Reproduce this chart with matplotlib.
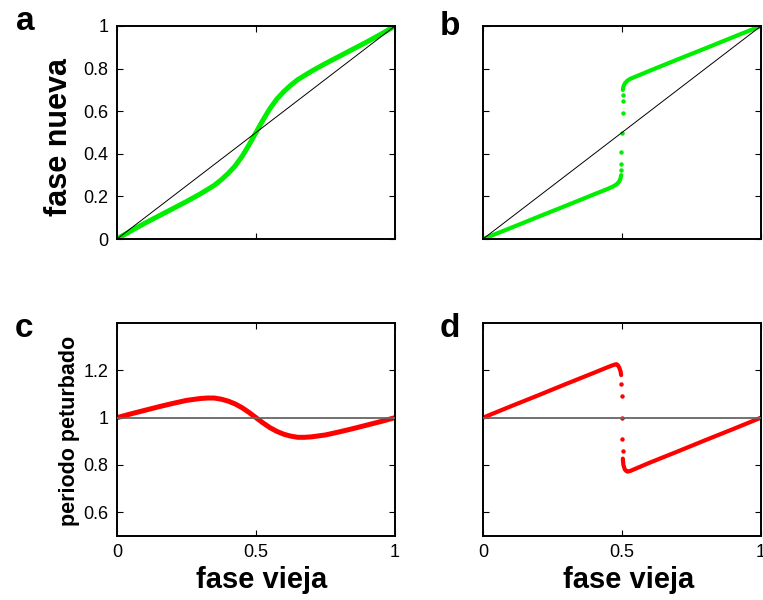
import matplotlib
matplotlib.use("Agg")
import matplotlib.pyplot as plt

plt.rcParams['font.family'] = ['Liberation Sans', 'DejaVu Sans']

# panel a: fase nueva vs fase vieja (suave)
old_a = [0, 0.05, 0.1, 0.15, 0.2, 0.25, 0.3, 0.35, 0.375, 0.4, 0.425, 0.45, 0.475, 0.5,
         0.525, 0.55, 0.575, 0.6, 0.625, 0.65, 0.7, 0.75, 0.8, 0.85, 0.9, 0.95, 1]
new_a = [0, 0.038, 0.074, 0.108, 0.142, 0.176, 0.212, 0.252, 0.278, 0.308, 0.343, 0.388, 0.442, 0.5,
         0.558, 0.612, 0.657, 0.692, 0.722, 0.748, 0.788, 0.824, 0.858, 0.892, 0.926, 0.962, 1]

# panel b: fase nueva con salto en 0.5
old_b_lo = [0, 0.1, 0.2, 0.3, 0.4, 0.45, 0.47, 0.48, 0.49, 0.495, 0.497]
new_b_lo = [0, 0.052, 0.105, 0.157, 0.21, 0.236, 0.248, 0.256, 0.27, 0.285, 0.30]
old_b_jump = [0.497, 0.497, 0.498, 0.5, 0.502, 0.503, 0.503]
new_b_jump = [0.326, 0.351, 0.408, 0.5, 0.592, 0.649, 0.674]
old_b_hi = [0.503, 0.505, 0.51, 0.52, 0.53, 0.6, 0.7, 0.8, 0.9, 1.0]
new_b_hi = [0.70, 0.715, 0.73, 0.744, 0.752, 0.79, 0.843, 0.895, 0.948, 1.0]

# panel c: periodo perturbado (suave)
old_c = [0, 0.05, 0.1, 0.15, 0.2, 0.25, 0.3, 0.325, 0.35, 0.375, 0.4, 0.425, 0.45, 0.475, 0.5,
         0.525, 0.55, 0.575, 0.6, 0.625, 0.65, 0.675, 0.7, 0.75, 0.8, 0.85, 0.9, 0.95, 1]
per_c = [1.0, 1.016, 1.031, 1.046, 1.06, 1.073, 1.081, 1.083, 1.083, 1.078, 1.07, 1.058, 1.042, 1.022, 1.0,
         0.978, 0.958, 0.942, 0.93, 0.922, 0.917, 0.917, 0.919, 0.927, 0.94, 0.954, 0.969, 0.984, 1.0]

# panel d: periodo perturbado con salto
old_d_lo = [0, 0.1, 0.2, 0.3, 0.4, 0.45, 0.47, 0.48, 0.485, 0.49, 0.495, 0.497]
per_d_lo = [1.0, 1.048, 1.095, 1.143, 1.19, 1.214, 1.223, 1.226, 1.222, 1.212, 1.195, 1.18]
old_d_jump = [0.498, 0.499, 0.5, 0.501, 0.502]
per_d_jump = [1.144, 1.09, 1.0, 0.911, 0.859]
old_d_hi = [0.503, 0.505, 0.51, 0.515, 0.52, 0.53, 0.6, 0.7, 0.8, 0.9, 1.0]
per_d_hi = [0.827, 0.80, 0.782, 0.775, 0.772, 0.775, 0.81, 0.857, 0.905, 0.952, 1.0]

green = '#00EE00'
red = '#FF0000'

fig = plt.figure(figsize=(7.63, 6.0), dpi=100)
W, H = 763.0, 600.0


def make_ax(x0, y0, x1, y1):
    ax = fig.add_axes([x0 / W, 1 - y1 / H, (x1 - x0) / W, (y1 - y0) / H])
    ax.tick_params(direction='in', top=True, right=True, length=4.5, width=0.8,
                   labelsize=13, pad=6, colors='black')
    for s in ax.spines.values():
        s.set_linewidth(1.4)
    ax.set_xlim(0, 1)
    ax.set_xticks([0, 0.5, 1])
    return ax


ax_a = make_ax(117, 26, 395, 239)
ax_b = make_ax(483, 26, 761, 239)
ax_c = make_ax(117, 323, 395, 536)
ax_d = make_ax(483, 323, 761, 536)

# top panels
for ax in (ax_a, ax_b):
    ax.set_ylim(0, 1)
    ax.set_yticks([0, 0.2, 0.4, 0.6, 0.8, 1])
    ax.set_xticklabels([])
    ax.plot([0, 1], [0, 1], color='black', lw=0.7, zorder=5)
ax_a.set_yticklabels(['0', '0.2', '0.4', '0.6', '0.8', '1'])
ax_b.set_yticklabels([])

ax_a.plot(old_a, new_a, color=green, lw=3.6, solid_capstyle='round', solid_joinstyle='round')
ax_b.plot(old_b_lo, new_b_lo, color=green, lw=3.0, solid_capstyle='round')
ax_b.plot(old_b_hi, new_b_hi, color=green, lw=3.0, solid_capstyle='round')
ax_b.plot(old_b_jump, new_b_jump, 'o', color=green, ms=3.2, mew=0)

# bottom panels
for ax in (ax_c, ax_d):
    ax.set_ylim(0.5, 1.4)
    ax.set_yticks([0.6, 0.8, 1, 1.2])
    ax.set_xticklabels(['0', '0.5', '1'])
    ax.axhline(1, color='0.4', lw=1.3, zorder=5)
ax_c.set_yticklabels(['0.6', '0.8', '1', '1.2'])
ax_d.set_yticklabels([])

ax_c.plot(old_c, per_c, color=red, lw=3.6, solid_capstyle='round', solid_joinstyle='round')
ax_d.plot(old_d_lo, per_d_lo, color=red, lw=3.0, solid_capstyle='round')
ax_d.plot(old_d_hi, per_d_hi, color=red, lw=3.0, solid_capstyle='round')
ax_d.plot(old_d_jump, per_d_jump, 'o', color=red, ms=3.2, mew=0)

# labels
fig.text(59 / W, 1 - 137 / H, 'fase nueva', rotation=90, fontsize=22,
         fontweight='bold', ha='center', va='center')
fig.text(70 / W, 1 - 431 / H, 'periodo peturbado', rotation=90, fontsize=15.5,
         fontweight='bold', ha='center', va='center')
fig.text(262 / W, 1 - 580 / H, 'fase vieja', fontsize=21,
         fontweight='bold', ha='center', va='center')
fig.text(629 / W, 1 - 580 / H, 'fase vieja', fontsize=21,
         fontweight='bold', ha='center', va='center')

# panel letters
for lab, x, y in [('a', 16, 30), ('b', 440, 35), ('c', 15, 337), ('d', 440, 337)]:
    fig.text(x / W, 1 - y / H, lab, fontsize=24, fontweight='bold',
             ha='left', va='baseline')

fig.savefig('out.png', dpi=100)
